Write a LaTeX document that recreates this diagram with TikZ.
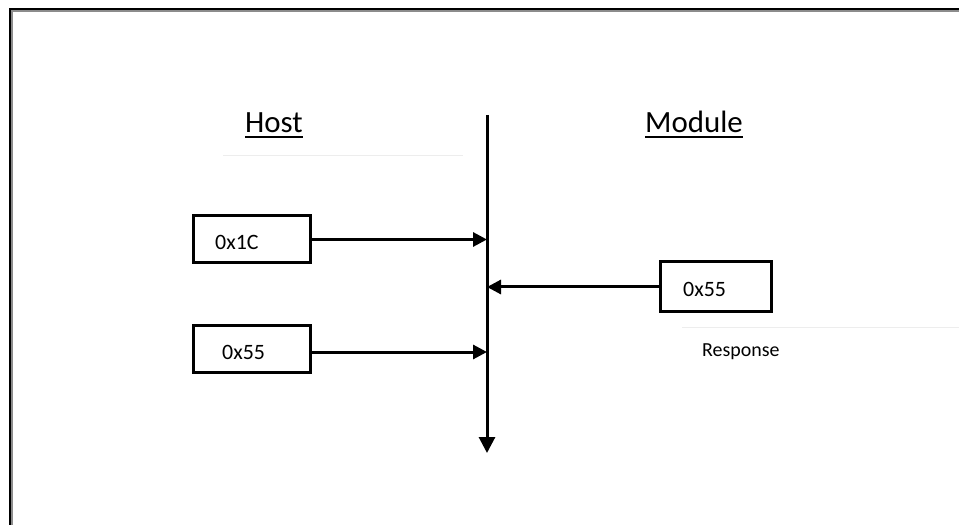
\documentclass[tikz,border=0pt]{standalone}
\usepackage{fontspec}
\setmainfont{Carlito}
\usetikzlibrary{arrows.meta}
\begin{document}
\begin{tikzpicture}[x=1bp,y=-1bp,
  valbox/.style={draw, line width=3bp, minimum width=117bp, minimum height=47bp, inner sep=0pt},
  valtext/.style={anchor=base west, inner sep=0pt, font=\fontsize{22}{26}\selectfont},
  head/.style={anchor=base, inner sep=0pt, font=\fontsize{31}{36}\selectfont},
  flow/.style={line width=3bp, -{Triangle[length=14bp,width=14bp]}},
  faint/.style={draw=black!7, line width=1bp}]
\useasboundingbox (0,0) rectangle (959,525);
% frame
\draw[line width=2bp, black] (10,525) -- (10,9) -- (959,9);
\draw[line width=2bp, black!45] (12,525) -- (12,11) -- (959,11);
% headings
\node[head] (host) at (274,133) {Host};
\node[head] (module) at (694,133) {Module};
\draw[line width=2bp] ([yshift=-4.5bp]host.base west) -- ([yshift=-4.5bp]host.base east);
\draw[line width=2bp] ([yshift=-4.5bp]module.base west) -- ([yshift=-4.5bp]module.base east);
% faint lines
\draw[faint] (223,156) -- (463,156);
\draw[faint] (682,328) -- (959,328);
% time axis
\coordinate (axtop) at (487,115);
\coordinate (axbot) at (487,453);
\draw[line width=3bp, -{Triangle[length=16bp,width=16bp]}] (axtop) -- (axbot);
% boxes
\node[valbox] (b1) at (251.5,239.5) {};
\node[valtext] (t1) at (215,250) {0x1C};
\node[valbox] (b2) at (251.5,349) {};
\node[valtext] (t2) at (222,360) {0x55};
\node[valbox, minimum width=111bp, minimum height=50bp] (b3) at (715.5,287) {};
\node[valtext] (t3) at (683,297) {0x55};
\node[anchor=base west, inner sep=0pt, font=\fontsize{20}{24}\selectfont] (resp) at (702,357) {Response};
% arrows
\draw[flow] (b1.east) -- (b1.east -| axtop);
\draw[flow] ([yshift=-3bp]b2.east) -- ([yshift=-3bp]b2.east -| axtop);
\draw[flow] (b3.west) -- (b3.west -| axtop);
\end{tikzpicture}
\end{document}
